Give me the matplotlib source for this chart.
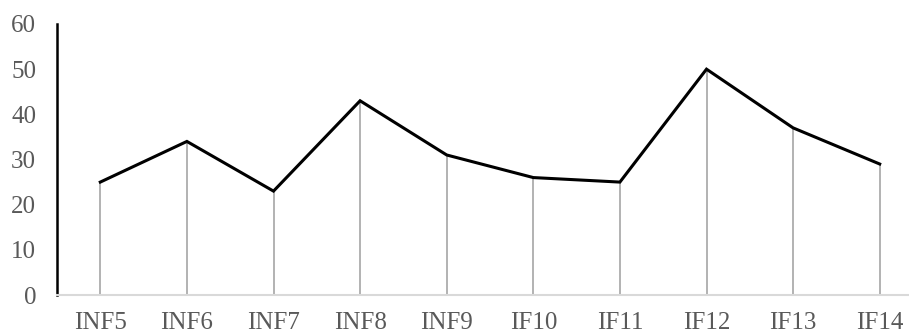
import numpy as np
import matplotlib.pyplot as plt

labels = ['INF5', 'INF6', 'INF7', 'INF8', 'INF9', 'IF10', 'IF11', 'IF12', 'IF13', 'IF14']
values = [25, 34, 23, 43, 31, 26, 25, 50, 37, 29]
yticks = [0, 10, 20, 30, 40, 50, 60]

plt.rcParams['font.family'] = ['Liberation Serif', 'DejaVu Serif']

W, H = 909, 332
fig = plt.figure(figsize=(W / 100, H / 100), dpi=100)
# plot area: left 57px, right ~923px (runs past the edge), y0 at 295px, y60 at 24px
ax = fig.add_axes([57 / W, (H - 295) / H, (923 - 57) / W, (295 - 24) / H])

x = np.arange(len(labels))
ax.vlines(x, 0, values, color='#a6a6a6', linewidth=1.2, zorder=1)
ax.plot(x, values, color='black', linewidth=2.2, zorder=3, solid_joinstyle='miter')

ax.set_xlim(-0.5, len(labels) - 0.5)
ax.set_ylim(0, 60)
ax.set_yticks(yticks)
ax.set_xticks(x)
ax.set_xticklabels(labels)

for s in ['top', 'right']:
    ax.spines[s].set_visible(False)
ax.spines['left'].set_color('black')
ax.spines['left'].set_linewidth(1.8)
ax.spines['bottom'].set_color('#d9d9d9')
ax.spines['bottom'].set_linewidth(1.5)

ax.tick_params(axis='both', length=0, labelsize=18, labelcolor='#595959')
ax.tick_params(axis='y', pad=15)
ax.tick_params(axis='x', pad=12)

fig.savefig('out.png', dpi=100)
